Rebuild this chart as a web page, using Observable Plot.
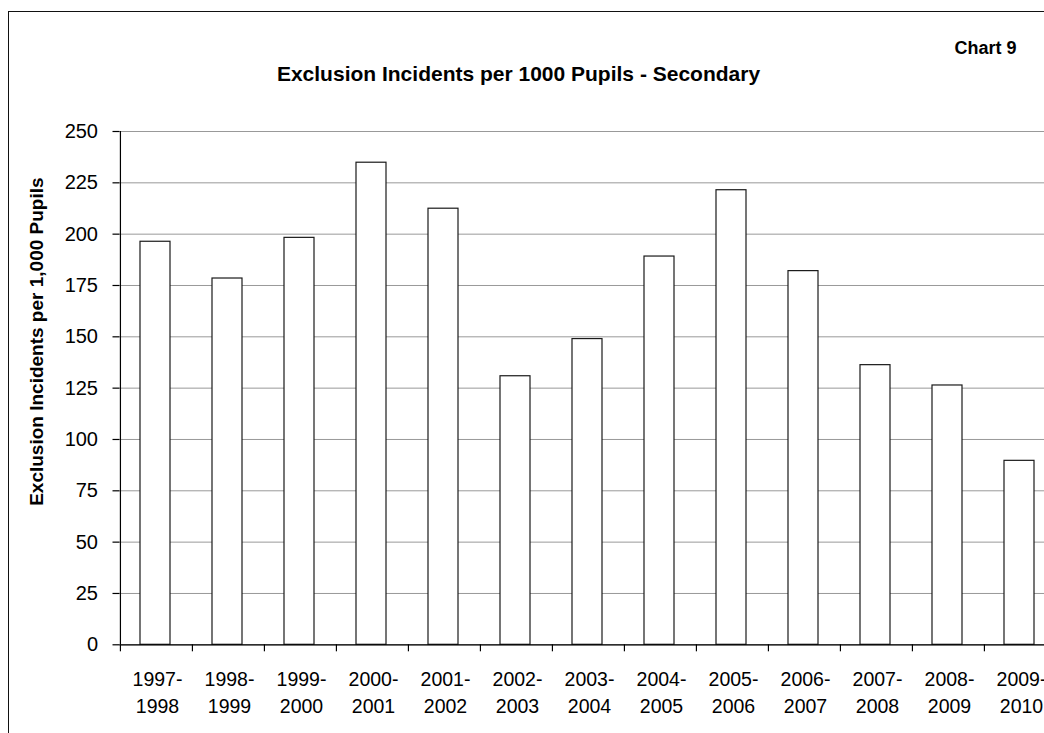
<!DOCTYPE html>
<html>
<head>
<meta charset="utf-8">
<script src="https://cdn.jsdelivr.net/npm/d3@7"></script>
<script src="https://cdn.jsdelivr.net/npm/@observablehq/plot@0.6"></script>
<style>
  html, body { margin: 0; padding: 0; background: #fff; overflow: hidden; }
  #wrap { position: relative; width: 1044px; height: 733px; overflow: hidden; }
  #border { position: absolute; left: 8px; top: 11px; width: 1200px; height: 800px;
            border-left: 1px solid #111; border-top: 1px solid #111; pointer-events: none; }
  #chart { position: absolute; left: 0; top: 0; }
</style>
</head>
<body>
<div id="wrap"><div id="chart"></div><div id="border"></div></div>
<script>
const seasons = ["1997-1998", "1998-1999", "1999-2000", "2000-2001", "2001-2002", "2002-2003",
  "2003-2004", "2004-2005", "2005-2006", "2006-2007", "2007-2008", "2008-2009", "2009-2010"];
const rates = [196.3, 178.4, 198.2, 234.8, 212.4, 130.8, 148.9, 189.1, 221.4, 182.0, 136.2, 126.3, 89.6];
const yTicks = [0, 25, 50, 75, 100, 125, 150, 175, 200, 225, 250];
const chartTitle = "Exclusion Incidents per 1000 Pupils - Secondary";
const chartTag = "Chart 9";
const yTitle = "Exclusion Incidents per 1,000 Pupils";

const data = seasons.map((s, i) => ({season: s, rate: rates[i]}));

const x0 = 119.5, x1 = 1057.4;
const step = (x1 - x0) / seasons.length;
const font = "'Liberation Sans', Arial, Helvetica, sans-serif";

const chart = Plot.plot({
  width: 1044,
  height: 733,
  marginTop: 131,
  marginBottom: 88.7,
  marginLeft: 119.5,
  marginRight: 0,
  style: {fontFamily: font, fontSize: "20px", color: "#000", background: "#fff", overflow: "hidden"},
  x: {type: "band", domain: seasons, range: [x0, x1], padding: 0, axis: null},
  y: {domain: [0, 250], axis: null},
  marks: [
    Plot.gridY(yTicks, {stroke: "#999", strokeOpacity: 1, strokeWidth: 1}),
    Plot.barY(data, {x: "season", y: "rate", fill: "#fff", stroke: "#1a1a1a", strokeWidth: 1.2,
      insetLeft: 20, insetRight: 22}),
    Plot.ruleY([0], {stroke: "#000", strokeWidth: 1.2}),
    Plot.ruleX(seasons.slice(0, 1), {x: d => d, y1: 0, y2: 250, dx: -step / 2, stroke: "#000", strokeWidth: 1.2}),
    Plot.ruleX(seasons, {x: d => d, y1: 0, y2: 0, insetBottom: -7, dx: -step / 2, stroke: "#000", strokeWidth: 1.2}),
    Plot.axisY(yTicks, {tickSize: 7, tickPadding: 15, fontSize: 20, label: null, stroke: "#000", strokeWidth: 1.2, fill: "#000"}),
    Plot.text(seasons, {x: d => d, text: d => d.replace("-", "-\n"), frameAnchor: "bottom",
      lineAnchor: "top", lineHeight: 1.4, dy: 22, dx: 1, fontSize: 19.5, fill: "#000"}),
    Plot.text([yTitle], {frameAnchor: "left", text: d => d, rotate: -90, dx: -83.5, dy: -46.5,
      textAnchor: "middle", lineAnchor: "middle",
      fontSize: 19, fontWeight: "bold", fill: "#000"}),
    Plot.text([chartTitle], {frameAnchor: "top-left", text: d => d, dx: 398.5, dy: -51,
      lineAnchor: "bottom", textAnchor: "middle", fontSize: 21, fontWeight: "bold", fill: "#000"}),
    Plot.text([chartTag], {frameAnchor: "top-left", text: d => d, dx: 834.5, dy: -78,
      lineAnchor: "bottom", textAnchor: "start", fontSize: 18, fontWeight: "bold", fill: "#000"})
  ]
});
document.getElementById("chart").appendChild(chart);
</script>
</body>
</html>
